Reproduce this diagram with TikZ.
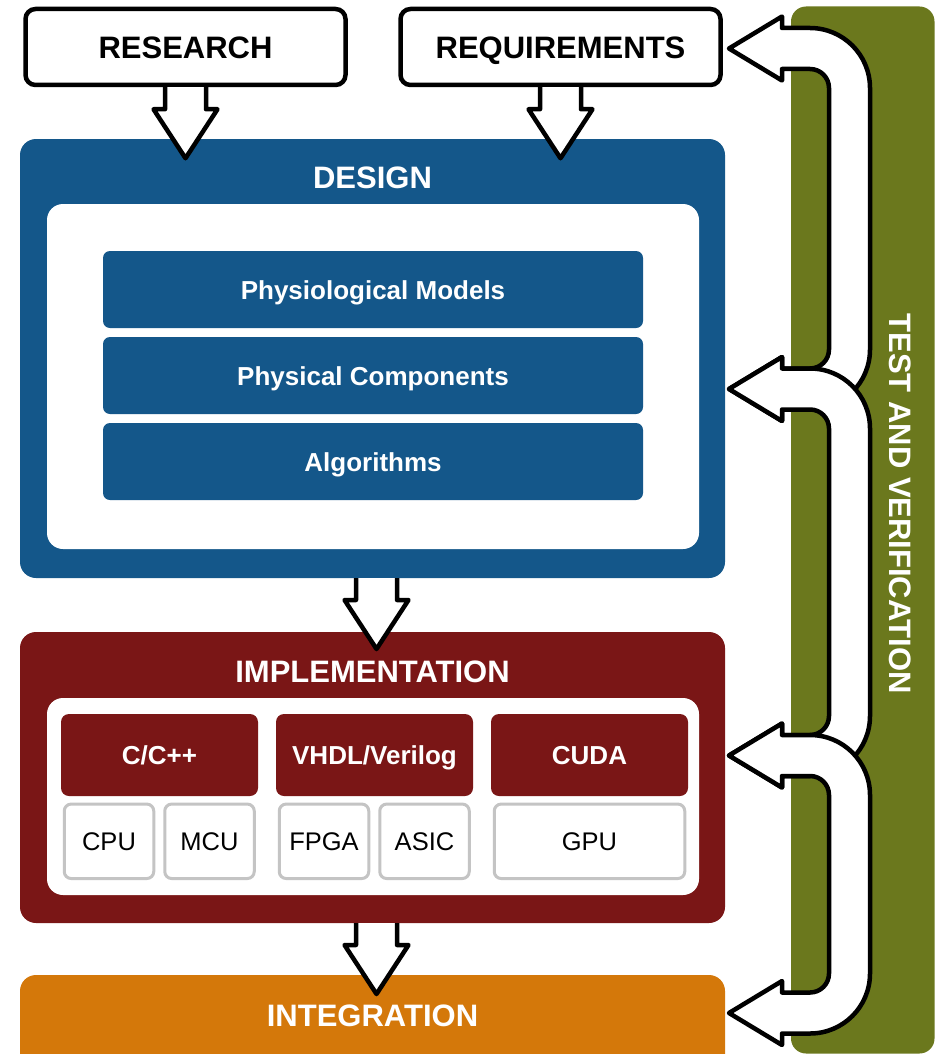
\documentclass[tikz,border=0pt]{standalone}
\usepackage{fontspec}
\setmainfont{Liberation Sans}
\usetikzlibrary{calc}

\definecolor{designblue}{HTML}{14578A}
\definecolor{implred}{HTML}{7A1616}
\definecolor{integorange}{HTML}{D4780A}
\definecolor{tvgreen}{HTML}{6B781D}
\definecolor{chipgray}{HTML}{C4C4C4}

% Straight block arrow pointing down, hanging from the given point
\newcommand\downBlock[1]{%
  \fill[white] ($(#1)+(-20.5,0)$) -- ++(0,22) -- ++(-11.5,0) -- ++(32,49)
    -- ++(32,-49) -- ++(-11.5,0) -- ++(0,-22) -- cycle;
  \draw[blockline] ($(#1)+(-20.5,0)$) -- ++(0,22) -- ++(-11.5,0) -- ++(32,49)
    -- ++(32,-49) -- ++(-11.5,0) -- ++(0,-22);
}

% U-shaped feedback arrow with a head at each end (#1 upper tip, #2 lower tip)
\newcommand\loopBlock[2]{%
  \filldraw[blockline, fill=white]
    (#1) -- ($(#1)+(53,-32)$) -- ($(#1)+(53,-20.5)$) -- ($(#1)+(81,-20.5)$)
    arc[start angle=90, end angle=0, radius=60pt]
    -- ($(#2)+(141,-39.5)$)
    arc[start angle=0, end angle=-90, radius=60pt]
    -- ($(#2)+(53,20.5)$) -- ($(#2)+(53,32)$) -- (#2)
    -- ($(#2)+(53,-32)$) -- ($(#2)+(53,-20.5)$) -- ($(#2)+(81,-20.5)$)
    arc[start angle=-90, end angle=0, radius=19pt]
    -- ($(#1)+(100,39.5)$)
    arc[start angle=0, end angle=90, radius=19pt]
    -- ($(#1)+(53,20.5)$) -- ($(#1)+(53,32)$) -- cycle;
}

\begin{document}
\begin{tikzpicture}[x=1pt, y=-1pt,
  every node/.style={inner sep=0pt, outer sep=0pt},
  blockline/.style={draw=black, line width=4.5pt, line join=round},
  titlefont/.style={font=\fontsize{31}{36}\selectfont\bfseries, text height=22.2pt, text depth=0pt},
  title/.style={titlefont, text=white},
  panel/.style={rectangle, rounded corners=16pt, minimum width=705pt},
  innerpanel/.style={rectangle, rounded corners=16pt, fill=white, minimum width=652pt},
  layer/.style={rectangle, rounded corners=7pt, fill=designblue, text=white,
    minimum width=540pt, minimum height=77pt,
    font=\fontsize{26}{31}\selectfont\bfseries, text height=19.6pt, text depth=0pt},
  lang/.style={rectangle, rounded corners=8pt, fill=implred, text=white,
    minimum width=197pt, minimum height=82pt,
    font=\fontsize{26}{31}\selectfont\bfseries, text height=18.6pt, text depth=0pt},
  chip/.style={rectangle, rounded corners=7pt, fill=white, draw=chipgray, line width=3pt,
    minimum width=89.5pt, minimum height=74.5pt,
    font=\fontsize{25.5}{30}\selectfont, text height=18.3pt, text depth=0pt},
  source/.style={rectangle, rounded corners=10pt, fill=white, draw=black, line width=4.5pt,
    outer sep=2.25pt, minimum width=320pt, minimum height=76pt, titlefont},
  greenbar/.style={rectangle, rounded corners=15pt, fill=tvgreen}
]
\useasboundingbox (0,0) rectangle (935,1054);
\clip (0,0) rectangle (935,1054);

% test and verification column
\node[greenbar, minimum width=143.5pt, minimum height=1047pt] (tv) at (862.75,530) {};
\node[title, rotate=-90] (tvtitle) at (901,503.5) {TEST AND VERIFICATION};

% design stage
\node[panel, fill=designblue, minimum height=439pt] (design) at (372.5,358.5) {};
\node[innerpanel, minimum height=345pt] (designinner) at (373,376.5) {};
\node[layer] (physio) at (373,289.5) {Physiological Models};
\node[layer] (physical) at (373,375.5) {Physical Components};
\node[layer] (algo) at (373,461.5) {Algorithms};

% implementation stage
\node[panel, fill=implred, minimum height=291pt] (impl) at (372.5,777.5) {};
\node[innerpanel, minimum height=197pt] (implinner) at (373,796.5) {};
\node[lang] (cpp) at (159.5,755) {C/C++};
\node[lang] (hdl) at (374.5,755) {VHDL/Verilog};
\node[lang] (cuda) at (589.5,755) {CUDA};
\node[chip] (cpu) at (109,841.3) {CPU};
\node[chip] (mcu) at (209.5,841.3) {MCU};
\node[chip] (fpga) at (324,841.3) {FPGA};
\node[chip] (asic) at (424.5,841.3) {ASIC};
\node[chip, minimum width=190.5pt] (gpu) at (589.5,841.3) {GPU};

% integration stage
\node[panel, fill=integorange, minimum height=110pt] (integ) at (372.5,1030) {};

% inputs
\node[source] (research) at (185.5,47) {RESEARCH};
\node[source] (requirements) at (560.5,47) {REQUIREMENTS};

% flow arrows between stages
\coordinate (designout) at ($(design.south)+(4,0)$);
\coordinate (implout) at ($(impl.south)+(4,0)$);
\downBlock{research.south}
\downBlock{requirements.south}
\downBlock{designout}
\downBlock{implout}

% stage titles
\node[title] (designtitle) at (372.5,177) {DESIGN};
\node[title] (impltitle) at (372.5,671) {IMPLEMENTATION};
\node[title] (integtitle) at (372.5,1015) {INTEGRATION};

% feedback loops from test and verification
\coordinate (fbreq) at (729,48.5);
\coordinate (fbdesign) at (729,389);
\coordinate (fbimpl) at (729,755.5);
\coordinate (fbinteg) at (729,1013);
\loopBlock{fbreq}{fbdesign}
\loopBlock{fbdesign}{fbimpl}
\loopBlock{fbimpl}{fbinteg}
\end{tikzpicture}
\end{document}
